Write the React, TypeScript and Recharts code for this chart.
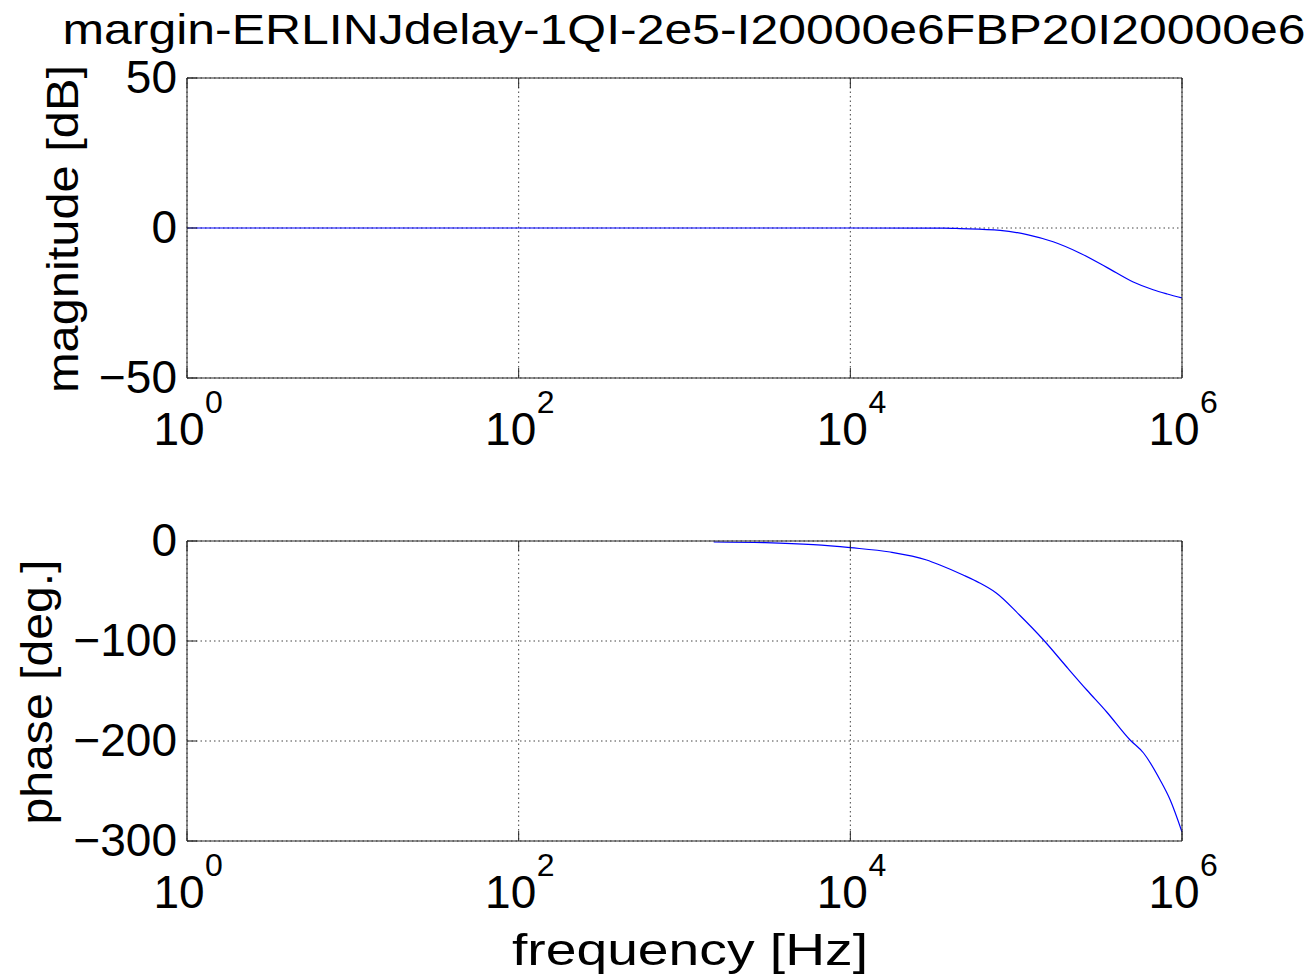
import React from 'react';
import { LineChart, Line, XAxis, YAxis, CartesianGrid } from 'recharts';

const FONT = '"Liberation Sans", Arial, sans-serif';
const INK = '#000000';
const FRAME = '#262626';

// axis ticks
const FREQ_TICKS = [1, 100, 10000, 1000000];
const MAG_TICKS = [-50, 0, 50];
const PHASE_TICKS = [-300, -200, -100, 0];

// magnitude response
const magFreq = [1, 10, 100, 1000, 10000, 36813, 45920, 80000, 116413, 167109, 243220, 353997, 508159, 669880, 814704, 1000000];
const magDb = [0, 0, 0, 0, 0, -0.05, -0.2, -0.8, -2.2, -4.6, -8.4, -13.2, -18.0, -20.6, -22.0, -23.3];

// phase response
const phaseFreq = [1500, 3062, 5970, 10000, 17378, 28840, 34674, 47863, 60256, 75858, 104713, 146218, 201837, 266686, 351560, 486407, 586138, 737904, 849180, 1000000];
const phaseDeg = [-1, -1.7, -3.7, -6.7, -11, -19, -24, -34, -42, -52, -74, -99, -126, -149, -171, -199, -212, -239, -259, -291];

const magData = magFreq.map((f, i) => ({ f, v: magDb[i] }));
const phaseData = phaseFreq.map((f, i) => ({ f, v: phaseDeg[i] }));

const fmt = (v: number) => (v < 0 ? '\u2212' + Math.abs(v) : String(v));

const FreqTick = (props: any) => {
  const { x, y, payload } = props;
  const exp = Math.round(Math.log10(payload.value));
  const base = y + 77;
  return (
    <g>
      <text x={x - 8} y={base} textAnchor="middle" fontSize={46} fontFamily={FONT} fill={INK}>10</text>
      <text x={x + 27} y={base - 32} textAnchor="middle" fontSize={32} fontFamily={FONT} fill={INK}>{exp}</text>
    </g>
  );
};

const ValueTick = (props: any) => {
  const { x, y, payload } = props;
  return (
    <text x={x - 20} y={y + 15} textAnchor="end" fontSize={46} fontFamily={FONT} fill={INK}>
      {fmt(payload.value)}
    </text>
  );
};

const NoTick = () => <g />;

const BodePanel = ({ data, yDomain, yTicks, margin, height }: any) => (
  <LineChart width={1310} height={height} data={data} margin={margin}>
    <CartesianGrid stroke="#444" strokeDasharray="1.5 3" strokeWidth={1} />
    <XAxis dataKey="f" type="number" scale="log" domain={[1, 1000000]} ticks={FREQ_TICKS}
      height={1} tickSize={-10} tickMargin={0} stroke={FRAME} tick={FreqTick} interval={0} />
    <XAxis xAxisId="top" orientation="top" dataKey="f" type="number" scale="log" domain={[1, 1000000]}
      ticks={FREQ_TICKS} height={1} tickSize={-10} stroke={FRAME} tick={NoTick} interval={0} />
    <YAxis type="number" domain={yDomain} ticks={yTicks} width={1} tickSize={-10} tickMargin={0}
      stroke={FRAME} tick={ValueTick} interval={0} />
    <YAxis yAxisId="right" orientation="right" type="number" domain={yDomain} ticks={yTicks}
      width={1} tickSize={-10} stroke={FRAME} tick={NoTick} interval={0} />
    <Line type="monotone" dataKey="v" stroke="#0000ff" strokeWidth={1.2} dot={false} isAnimationActive={false} />
  </LineChart>
);

export default function App() {
  return (
    <div style={{ position: 'absolute', left: 0, top: 0, width: 1310, height: 974, background: '#fff' }}>
      <div style={{ position: 'absolute', left: 0, top: 0 }}>
        <BodePanel data={magData} yDomain={[-50, 50]} yTicks={MAG_TICKS} height={460}
          margin={{ top: 77, right: 127, bottom: 81, left: 186 }} />
      </div>
      <div style={{ position: 'absolute', left: 0, top: 460 }}>
        <BodePanel data={phaseData} yDomain={[-300, 0]} yTicks={PHASE_TICKS} height={514}
          margin={{ top: 80, right: 127, bottom: 132, left: 186 }} />
      </div>
      <svg width={1310} height={974} style={{ position: 'absolute', left: 0, top: 0, pointerEvents: 'none' }}>
        <text x={684} y={44} textAnchor="middle" fontSize={42} fontFamily={FONT} fill={INK}
          textLength={1243} lengthAdjust="spacingAndGlyphs">margin-ERLINJdelay-1QI-2e5-I20000e6FBP20I20000e6</text>
        <text transform="translate(78,229) rotate(-90)" textAnchor="middle" fontSize={44} fontFamily={FONT}
          fill={INK} textLength={328} lengthAdjust="spacingAndGlyphs">magnitude [dB]</text>
        <text transform="translate(52,692) rotate(-90)" textAnchor="middle" fontSize={44} fontFamily={FONT}
          fill={INK} textLength={265} lengthAdjust="spacingAndGlyphs">phase [deg.]</text>
        <text x={690} y={965} textAnchor="middle" fontSize={44} fontFamily={FONT} fill={INK}
          textLength={356} lengthAdjust="spacingAndGlyphs">frequency [Hz]</text>
      </svg>
    </div>
  );
}
